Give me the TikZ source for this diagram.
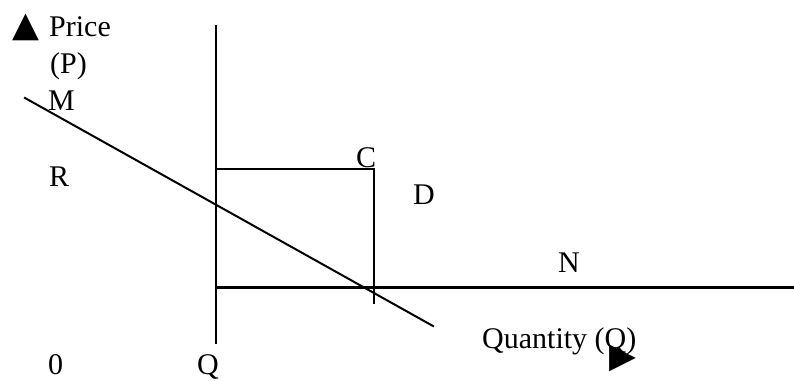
\documentclass[tikz,border=0pt]{standalone}
\usepackage{fontspec}
\setmainfont{Liberation Serif}
\newfontfamily\symfont{DejaVu Sans}
\begin{document}
\begin{tikzpicture}[x=1pt,y=-1pt,
  lbl/.style={inner sep=0pt,anchor=base west,font=\fontsize{30}{30}\selectfont},
  sym/.style={inner sep=0pt,anchor=center,font=\symfont\fontsize{35}{35}\selectfont},
  ln/.style={line width=2pt,line cap=rect},
  thick line/.style={line width=3pt}]
\useasboundingbox (0,0) rectangle (794,380);
% axes / lines
\coordinate (vtop) at (216,26);
\coordinate (vbot) at (216,343);
\draw[ln] (vtop) -- (vbot);
\coordinate (mstart) at (25,98);
\coordinate (mend) at (433,326);
\draw[ln] (mstart) -- (mend);
\coordinate (rtl) at (216,169);
\coordinate (rtr) at (374,169);
\coordinate (rbr) at (374,303);
\draw[ln] (rtl) -- (rtr) -- (rbr);
\coordinate (hl) at (216,287);
\coordinate (hr) at (794,287);
\draw[thick line] (hl) -- (hr);
% labels
\node[sym] (up) at (26,27.5) {▲};
\node[lbl] (price) at (49,36) {Price};
\node[lbl] (p) at (50,73) {(P)};
\node[lbl] (m) at (48,110) {M};
\node[lbl] (r) at (49,186) {R};
\node[lbl] (c) at (356,167) {C};
\node[lbl] (d) at (413,204) {D};
\node[lbl] (n) at (558,272) {N};
\node[lbl] (qty) at (482,348) {Quantity (Q)};
\node[sym] (right) at (622.5,358) {▶};
\node[lbl] (zero) at (48,374) {0};
\node[lbl] (q) at (197,374) {Q};
\end{tikzpicture}
\end{document}
